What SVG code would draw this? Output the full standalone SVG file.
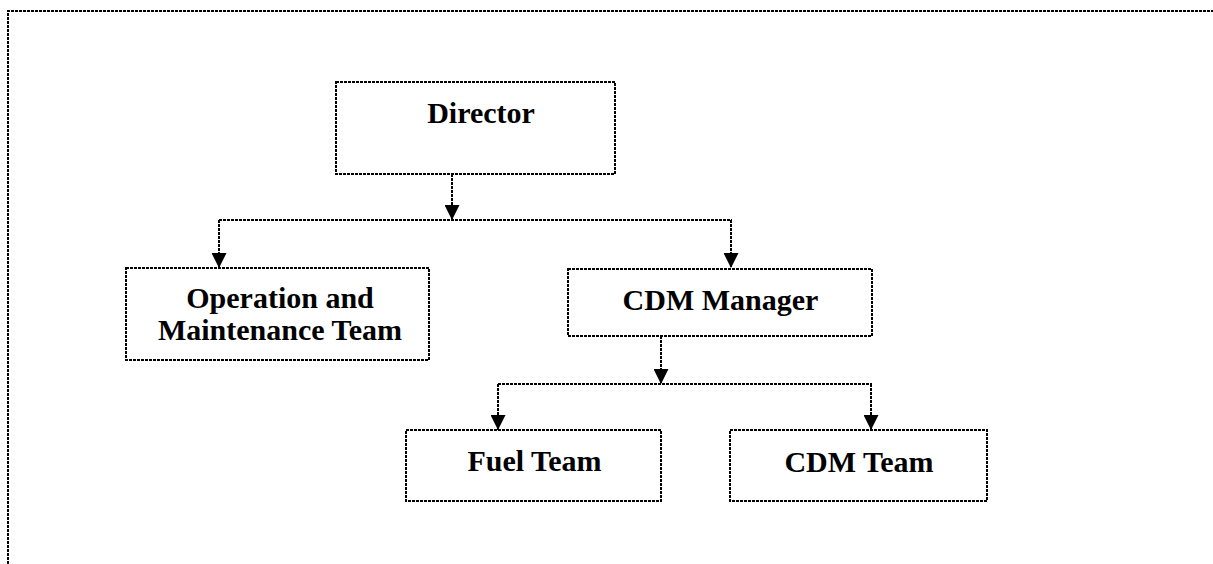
<svg xmlns="http://www.w3.org/2000/svg" width="1213" height="564" viewBox="0 0 1213 564">
<style>
.box{fill:#fff;stroke:#000;stroke-width:2;stroke-dasharray:3 1}
.ln{fill:none;stroke:#000;stroke-width:2;stroke-dasharray:3 1}
.t{font-family:"Liberation Serif","Times New Roman",serif;font-weight:bold;font-size:30px;fill:#000;text-anchor:middle}
</style>
<defs>
<marker id="arr" markerUnits="userSpaceOnUse" markerWidth="15" markerHeight="15" refX="15" refY="7.5" orient="auto">
<path d="M0,0 L15,7.5 L0,15 z" fill="#000"/>
</marker>
</defs>
<rect width="1213" height="564" fill="#fff"/>
<path class="ln" d="M8,564 V11 H1213"/>
<g id="connectors">
<path class="ln" d="M452,174 V220" marker-end="url(#arr)"/>
<path class="ln" d="M219,220 H732"/>
<path class="ln" d="M219,220 V268" marker-end="url(#arr)"/>
<path class="ln" d="M731,220 V268" marker-end="url(#arr)"/>
<path class="ln" d="M661,336 V384" marker-end="url(#arr)"/>
<path class="ln" d="M498,384 H872"/>
<path class="ln" d="M498,384 V430" marker-end="url(#arr)"/>
<path class="ln" d="M871,384 V430" marker-end="url(#arr)"/>
</g>
<g id="director">
<rect class="box" x="336" y="82" width="279" height="92"/>
<text class="t" x="481" y="123">Director</text>
</g>
<g id="operation">
<rect class="box" x="126" y="268" width="303" height="92"/>
<text class="t" x="280" y="308">Operation and</text>
<text class="t" x="280" y="340">Maintenance Team</text>
</g>
<g id="cdm-manager">
<rect class="box" x="568" y="269" width="304" height="67"/>
<text class="t" x="720.5" y="310">CDM Manager</text>
</g>
<g id="fuel-team">
<rect class="box" x="406" y="430" width="255" height="71"/>
<text class="t" x="534.5" y="471">Fuel Team</text>
</g>
<g id="cdm-team">
<rect class="box" x="730" y="430" width="257" height="71"/>
<text class="t" x="859" y="472">CDM Team</text>
</g>
</svg>
